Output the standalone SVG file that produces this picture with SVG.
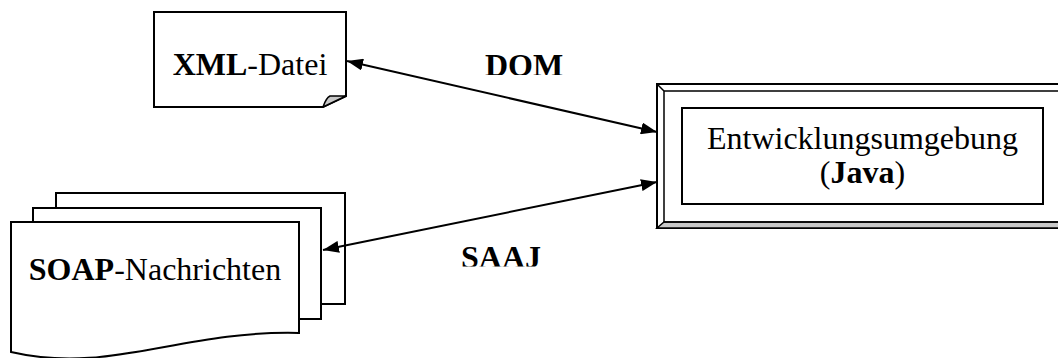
<svg xmlns="http://www.w3.org/2000/svg" width="1058" height="358" viewBox="0 0 1058 358">
  <style>
    .box { fill: #fff; stroke: #000; stroke-width: 2; }
    .fold { fill: #c8c8c8; stroke: #000; stroke-width: 1.5; stroke-linejoin: round; }
    .link { fill: none; stroke: #000; stroke-width: 2; }
    .lbl { font-family: "Liberation Serif", "Times New Roman", serif; font-size: 32px; fill: #000; }
    .b { font-weight: bold; }
  </style>
  <defs>
    <marker id="arrow" viewBox="0 0 16 12" refX="16" refY="6" markerWidth="16" markerHeight="12" markerUnits="userSpaceOnUse" orient="auto-start-reverse">
      <path d="M0,0 L16,6 L0,12 Z" fill="#000"/>
    </marker>
    <clipPath id="clipDom"><rect x="400" y="30" width="250" height="45"/></clipPath>
    <clipPath id="clipSaaj"><rect x="400" y="230" width="250" height="36.5"/></clipPath>
  </defs>

  <!-- XML file: page with folded corner -->
  <g id="xml-datei">
    <path class="box" d="M154,12 H346 V96 L323,107 H154 Z"/>
    <path class="fold" d="M323,107 Q326,98 330,96 H346 Z"/>
    <text class="lbl" x="250" y="75" text-anchor="middle"><tspan class="b">XML</tspan>-Datei</text>
  </g>

  <!-- Stack of SOAP messages -->
  <g id="soap-nachrichten">
    <rect class="box" x="56" y="193" width="289" height="111"/>
    <rect class="box" x="33" y="208" width="288" height="111"/>
    <path class="box" d="M11,222 H299 V333 C180,330 110,375 11,352 Z"/>
    <text class="lbl" x="155" y="280" text-anchor="middle"><tspan class="b">SOAP</tspan>-Nachrichten</text>
  </g>

  <!-- Development environment: bevelled frame around an inner box -->
  <g id="entwicklungsumgebung">
    <rect x="657" y="84" width="420" height="144" fill="#fff" stroke="#000" stroke-width="2"/>
    <path d="M657,228 L664,222 H1077 V228 Z" fill="#c8c8c8" stroke="#000" stroke-width="1.5"/>
    <rect x="664" y="91" width="420" height="131" fill="none" stroke="#000" stroke-width="1.5"/>
    <line x1="657" y1="84" x2="664" y2="91" stroke="#000" stroke-width="1.5"/>
    <rect class="box" x="682" y="108" width="361" height="96"/>
    <text class="lbl" x="862.5" y="149" text-anchor="middle">Entwicklungsumgebung</text>
    <text class="lbl" x="862.5" y="183" text-anchor="middle">(<tspan class="b">Java</tspan>)</text>
  </g>

  <!-- Connectors -->
  <g id="connectors">
    <line class="link" x1="347" y1="61" x2="657" y2="132" marker-start="url(#arrow)" marker-end="url(#arrow)"/>
    <line class="link" x1="323" y1="250" x2="657" y2="182" marker-start="url(#arrow)" marker-end="url(#arrow)"/>
    <text class="lbl b" x="524" y="76" text-anchor="middle" clip-path="url(#clipDom)">DOM</text>
    <text class="lbl b" x="501" y="268" text-anchor="middle" clip-path="url(#clipSaaj)">SAAJ</text>
  </g>
</svg>
